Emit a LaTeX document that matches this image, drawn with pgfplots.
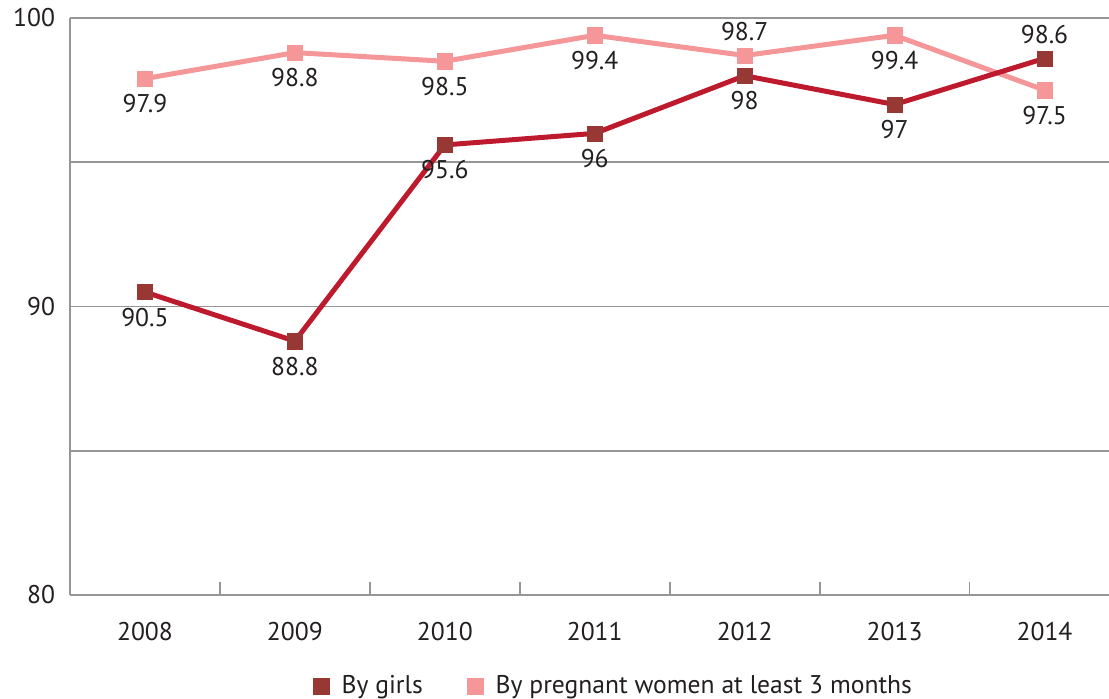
\documentclass[border=0pt]{standalone}
\usepackage{pgfplots}
\usepackage{pgfplotstable}
\pgfplotsset{compat=1.18}
\usepackage{fontspec}
\setmainfont{PT Sans}
\definecolor{girlsL}{RGB}{190,26,46}
\definecolor{girlsM}{RGB}{152,56,52}
\definecolor{pregC}{RGB}{245,150,152}
\definecolor{gridC}{RGB}{150,150,150}
\definecolor{txt}{RGB}{35,31,32}

% dy: vertical offset of the value label (pt)
\pgfplotstableread{
x y lbl dy
0 90.5 90.5 -12.5
1 88.8 88.8 -12.5
2 95.6 95.6 -12.5
3 96 96 -12.5
4 98 98 -12.5
5 97 97 -12.5
6 98.6 98.6 12
}\girls
\pgfplotstableread{
x y lbl dy
0 97.9 97.9 -12.5
1 98.8 98.8 -12.5
2 98.5 98.5 -12.5
3 99.4 99.4 -12.5
4 98.7 98.7 12
5 99.4 99.4 -12.5
6 97.5 97.5 -12.5
}\pregnant

\begin{document}
\fontsize{12.8}{15}\selectfont
\begin{tikzpicture}
\begin{axis}[
 scale only axis, width=519.5pt, height=288.5pt, clip=false,
 xmin=-0.5, xmax=6.43, ymin=80, ymax=100,
 axis x line*=bottom, axis y line*=left,
 axis line style={gridC, line width=0.9pt, -},
 xtick={0,...,6}, xticklabels={2008,2009,2010,2011,2012,2013,2014},
 minor xtick={0.5,1.5,...,5.5},
 ytick={80,90,100}, minor ytick={85,95},
 ymajorgrids, yminorgrids,
 grid style={gridC, line width=0.9pt},
 major tick length=0pt, minor tick length=6.5pt, tick align=inside,
 minor tick style={gridC, line width=0.9pt},
 tick label style={text=txt},
 /pgf/number format/assume math mode=true,
 xticklabel style={yshift=-9pt},
 yticklabel style={xshift=-3pt},
 legend style={draw=none, fill=none, at={(0.524,-0.158)}, anchor=center,
   legend columns=2, text=txt,
   /tikz/every odd column/.append style={column sep=4pt},
   /tikz/every even column/.append style={column sep=20pt}},
]
\addlegendimage{legend image code/.code={\fill[girlsM] (0pt,-4pt) rectangle (8pt,4pt);}}
\addlegendentry{By girls}
\addlegendimage{legend image code/.code={\fill[pregC] (0pt,-4pt) rectangle (8pt,4pt);}}
\addlegendentry{By pregnant women at least 3 months}

\addplot[pregC, line width=2.5pt, mark=square*, mark size=3.8pt,
 mark options={solid, draw=pregC, fill=pregC, line width=0.2pt},
 nodes near coords, point meta=explicit symbolic,
 visualization depends on={\thisrow{dy} \as \lbldy},
 every node near coord/.append style={anchor=center, yshift=\lbldy pt, text=txt}]
 table[x=x, y=y, meta=lbl] {\pregnant};

\addplot[girlsL, line width=2.5pt, mark=square*, mark size=3.8pt,
 mark options={solid, draw=girlsM, fill=girlsM, line width=0.2pt},
 nodes near coords, point meta=explicit symbolic,
 visualization depends on={\thisrow{dy} \as \lbldy},
 every node near coord/.append style={anchor=center, yshift=\lbldy pt, text=txt}]
 table[x=x, y=y, meta=lbl] {\girls};
\end{axis}
\pgfresetboundingbox
\path (-35pt,-52pt) rectangle (519.5pt,297.5pt);
\end{tikzpicture}
\end{document}
